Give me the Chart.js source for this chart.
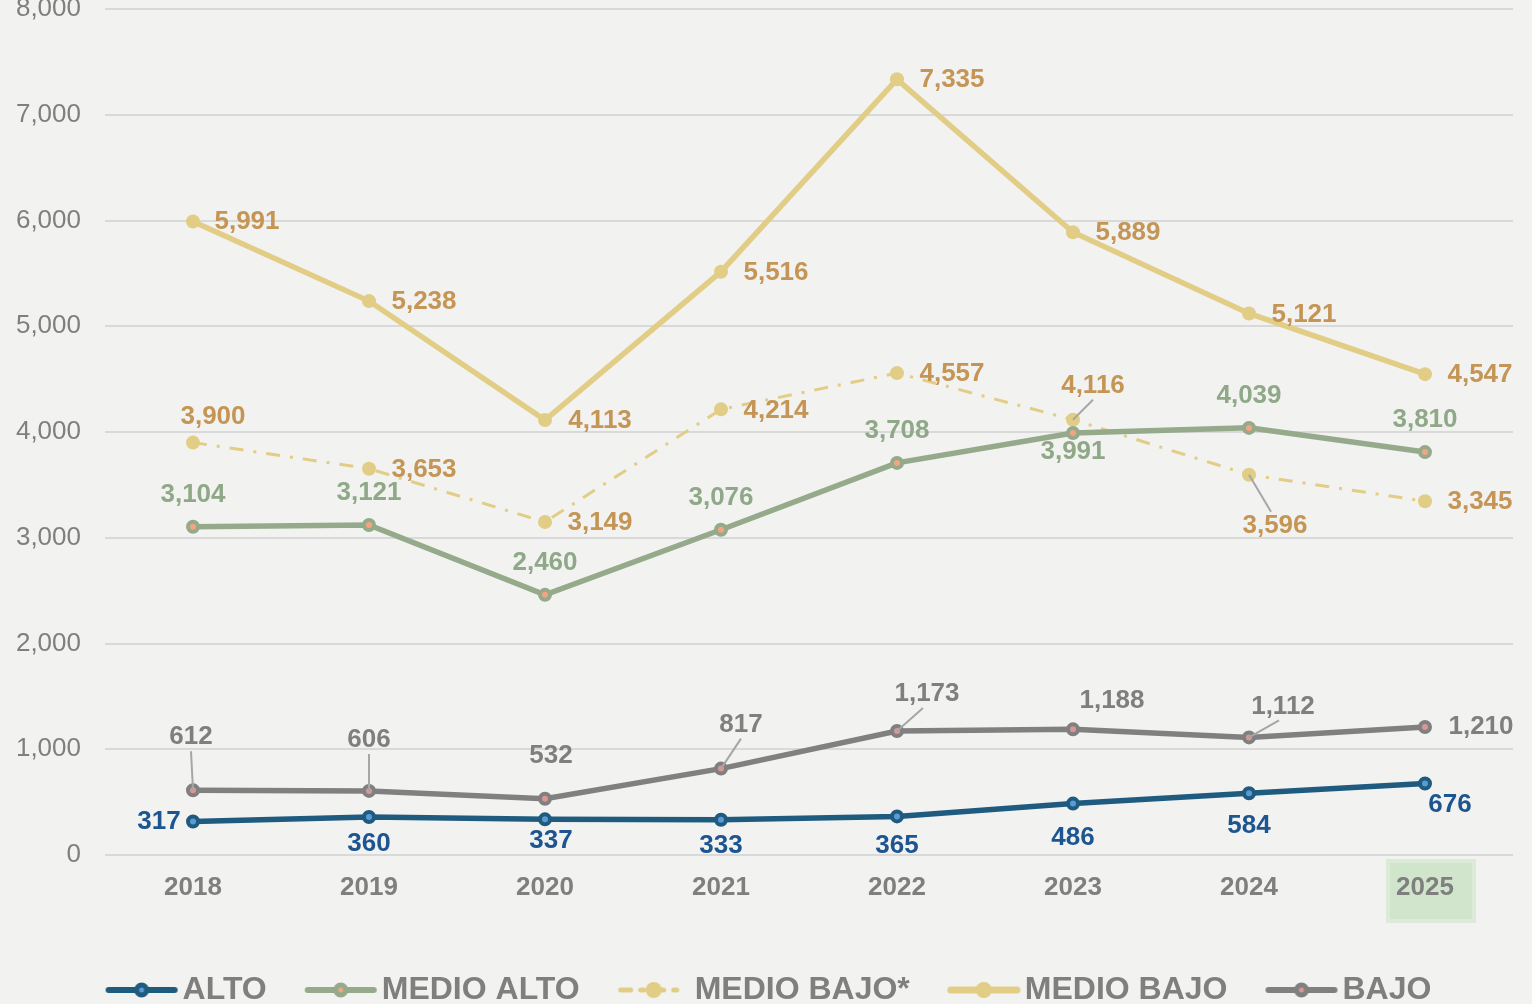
<!DOCTYPE html>
<html>
<head>
<meta charset="utf-8">
<script src="https://cdn.jsdelivr.net/npm/chart.js@4.4.1/dist/chart.umd.min.js"></script>
<style>
  html, body { margin: 0; padding: 0; background: #f2f2f0; }
  canvas { display: block; }
</style>
</head>
<body>
<canvas id="nivelesChart" width="1532" height="1004"></canvas>
<script>
// categorias y series
const years = ["2018", "2019", "2020", "2021", "2022", "2023", "2024", "2025"];
const alto = [317, 360, 337, 333, 365, 486, 584, 676];
const medioAlto = [3104, 3121, 2460, 3076, 3708, 3991, 4039, 3810];
const medioBajoEst = [3900, 3653, 3149, 4214, 4557, 4116, 3596, 3345];
const medioBajo = [5991, 5238, 4113, 5516, 7335, 5889, 5121, 4547];
const bajo = [612, 606, 532, 817, 1173, 1188, 1112, 1210];
const yTicks = [0, 1000, 2000, 3000, 4000, 5000, 6000, 7000, 8000];

const GRAY = "#7f7f7f";
const FONT = "'Liberation Sans', Arial, sans-serif";

// muestra de leyenda: linea con marcador al centro
function legendIcon(color, fill, dash, width, r, border) {
  const c = document.createElement("canvas");
  c.width = 74; c.height = 24;
  const g = c.getContext("2d");
  g.strokeStyle = color;
  g.lineWidth = width;
  g.lineCap = "round";
  g.setLineDash(dash);
  g.beginPath(); g.moveTo(4, 12); g.lineTo(70, 12); g.stroke();
  g.setLineDash([]);
  g.beginPath(); g.arc(37, 12, r, 0, Math.PI * 2);
  g.fillStyle = fill; g.fill();
  if (border) { g.lineWidth = border; g.strokeStyle = color; g.stroke(); }
  return c;
}

const legendIcons = [
  legendIcon("#1f5a7f", "#5b9bd5", [], 6, 5, 5),
  legendIcon("#94aa8b", "#f4a482", [], 6, 5, 5),
  legendIcon("#e2cd86", "#e2cd86", [10, 10, 3, 10], 5, 8, 0),
  legendIcon("#e2cd86", "#e2cd86", [], 7, 8, 0),
  legendIcon("#808080", "#d99694", [], 6, 5, 5),
];

// resalta la etiqueta 2025
const highlight2025 = {
  id: "highlight2025",
  beforeDraw(chart) {
    const { ctx, chartArea } = chart;
    const x = chart.scales.x.getPixelForValue(7);
    ctx.save();
    ctx.fillStyle = "#d0e5cc";
    ctx.strokeStyle = "#dcebd8";
    ctx.lineWidth = 4;
    ctx.fillRect(x - 37, chartArea.bottom + 6, 86, 60);
    ctx.strokeRect(x - 37, chartArea.bottom + 6, 86, 60);
    ctx.restore();
  },
};

// etiquetas de valores con lineas guia
const valueLabels = {
  id: "valueLabels",
  afterDatasetsDraw(chart) {
    const ctx = chart.ctx;
    ctx.save();
    ctx.font = "bold 26px " + FONT;
    ctx.textAlign = "center";
    ctx.textBaseline = "middle";
    chart.data.datasets.forEach((ds, di) => {
      const meta = chart.getDatasetMeta(di);
      meta.data.forEach((pt, i) => {
        const [dx, dy, lead] = ds.labelOffsets[i];
        const x = pt.x + dx, y = pt.y + dy;
        if (lead) {
          ctx.strokeStyle = "#a6a6a6";
          ctx.lineWidth = 2;
          ctx.beginPath();
          ctx.moveTo(pt.x, pt.y);
          ctx.lineTo(x - (dx > 20 ? 4 : 0), y + (dy < 0 ? 14 : -14));
          ctx.stroke();
        }
        ctx.fillStyle = ds.labelColor;
        ctx.fillText(ds.data[i].toLocaleString("en-US"), x, y);
      });
    });
    ctx.restore();
  },
};

const ctx = document.getElementById("nivelesChart").getContext("2d");

const data = {
  labels: years,
  datasets: [
    {
      label: "ALTO",
      data: alto,
      borderColor: "#1f5a7f",
      backgroundColor: "#5b9bd5",
      pointBorderColor: "#1f5a7f",
      borderWidth: 5.5,
      pointRadius: 5,
      pointBorderWidth: 4,
      labelColor: "#1c5590",
      labelOffsets: [[-34, 0], [0, 27], [6, 21], [0, 26], [0, 29], [0, 34], [0, 33], [25, 21]],
    },
    {
      label: "MEDIO ALTO",
      data: medioAlto,
      borderColor: "#94aa8b",
      backgroundColor: "#f4a482",
      pointBorderColor: "#94aa8b",
      borderWidth: 5.5,
      pointRadius: 5,
      pointBorderWidth: 4,
      labelColor: "#8fa887",
      labelOffsets: [[0, -32], [0, -32], [0, -32], [0, -32], [0, -32], [0, 19], [0, -32], [0, -32]],
    },
    {
      label: "MEDIO BAJO*",
      data: medioBajoEst,
      borderColor: "#e2cd86",
      backgroundColor: "#e2cd86",
      pointBorderColor: "#e2cd86",
      borderWidth: 3,
      borderDash: [14, 10, 3, 10],
      pointRadius: 7,
      pointBorderWidth: 0,
      labelColor: "#c49554",
      labelOffsets: [[20, -26], [55, 1], [55, 1], [55, 1], [55, 1], [20, -34, true], [26, 51, true], [55, 1]],
    },
    {
      label: "MEDIO BAJO",
      data: medioBajo,
      borderColor: "#e2cd86",
      backgroundColor: "#e2cd86",
      pointBorderColor: "#e2cd86",
      borderWidth: 5.5,
      pointRadius: 7,
      pointBorderWidth: 0,
      labelColor: "#c49554",
      labelOffsets: [[54, 0], [55, 1], [55, 1], [55, 1], [55, 1], [55, 1], [55, 1], [55, 1]],
    },
    {
      label: "BAJO",
      data: bajo,
      borderColor: "#808080",
      backgroundColor: "#d99694",
      pointBorderColor: "#808080",
      borderWidth: 5.5,
      pointRadius: 5,
      pointBorderWidth: 4,
      labelColor: GRAY,
      labelOffsets: [[-2, -53, true], [0, -51, true], [6, -43], [20, -44, true], [30, -37, true], [39, -29], [34, -31, true], [56, 0]],
    },
  ],
};

const config = {
  type: "line",
  data: data,
  plugins: [highlight2025, valueLabels],
  options: {
    responsive: false,
    animation: false,
    layout: { padding: { top: 7, right: 0, left: 16, bottom: 0 } },
    scales: {
      x: {
        offset: true,
        grid: { display: false, drawTicks: false },
        border: { display: false },
        ticks: { color: GRAY, font: { family: FONT, size: 26, weight: "bold" }, padding: 17 },
        afterFit(s) { s.height = 70; s.paddingLeft = 0; s.paddingRight = 19; },
      },
      y: {
        min: 0,
        max: 8000,
        afterBuildTicks(s) { s.ticks = yTicks.map((v) => ({ value: v })); },
        grid: { color: "#d9d9d9", lineWidth: 2, drawTicks: false },
        border: { display: false },
        ticks: {
          color: GRAY,
          font: { family: FONT, size: 26 },
          padding: 24,
          callback: (v) => v.toLocaleString("en-US"),
        },
        afterFit(s) { s.width = 89; s.paddingTop = 0; s.paddingBottom = 0; },
      },
    },
    plugins: {
      tooltip: { enabled: false },
      legend: {
        position: "bottom",
        maxHeight: 79,
        labels: {
          usePointStyle: true,
          pointStyleWidth: 50,
          padding: 49,
          color: GRAY,
          font: { family: FONT, size: 32, weight: "bold" },
          generateLabels(chart) {
            return Chart.defaults.plugins.legend.labels.generateLabels(chart).map((it, i) => ({
              ...it,
              pointStyle: legendIcons[i],
              fontColor: GRAY,
            }));
          },
        },
      },
    },
  },
};

const nivelesChart = new Chart(ctx, config);
</script>
</body>
</html>
